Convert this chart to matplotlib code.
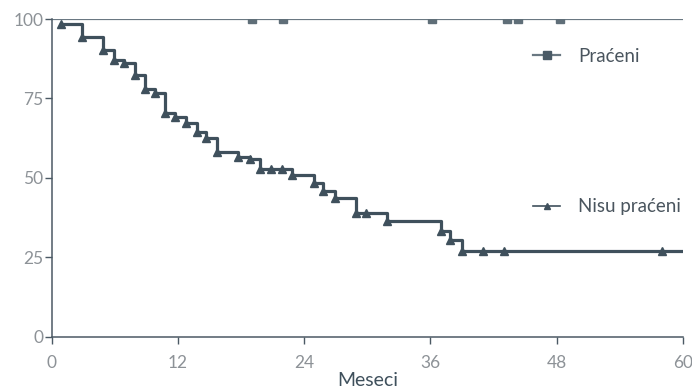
import matplotlib.pyplot as plt
from matplotlib.lines import Line2D

# Nisu praćeni: step curve (time in months, survival %)
nisu_t = [0.9, 2.9, 4.9, 5.9, 6.9, 7.9, 8.9, 9.8, 10.8, 11.7, 12.8, 13.8, 14.7,
          15.7, 17.7, 18.8, 19.8, 20.8, 21.9, 22.8, 24.9, 25.8, 26.9, 28.9,
          29.9, 31.9, 37.0, 37.9, 39.0, 41.0, 43.0, 58.0]
nisu_s = [98.5, 94.2, 90.2, 87.1, 86.0, 82.3, 78.0, 76.6, 70.5, 69.1, 67.2, 64.3,
          62.6, 58.2, 56.5, 56.0, 52.8, 52.8, 52.8, 50.9, 48.5, 45.9, 43.6, 39.0,
          39.0, 36.4, 33.3, 30.4, 27.0, 27.0, 27.0, 27.0]
# Praćeni: all stay at 100 %, censor marks
pracen_t = [19.0, 22.0, 36.1, 43.3, 44.3, 48.3]
pracen_s = [100] * len(pracen_t)

x_ticks = [0, 12, 24, 36, 48, 60]
y_ticks = [0, 25, 50, 75, 100]

DARK = "#3f505c"
GREY = "#6a7882"
TICK = "#8d9297"
FONT = ["Lato", "DejaVu Sans"]

fig = plt.figure(figsize=(6.92, 3.92), dpi=100)
ax = fig.add_axes([0.0747, 0.141, 0.9123, 0.8105])

# Praćeni line across full range at 100
ax.plot([0, 60], [100, 100], color=GREY, lw=1.6, zorder=2)
ax.plot(pracen_t, pracen_s, ls="none", marker="s", ms=5.5, color="#5f6e78", zorder=3)

# Nisu praćeni step curve
ax.step(nisu_t + [60], nisu_s + [nisu_s[-1]], where="post", color=DARK, lw=2.3, zorder=4)
ax.plot(nisu_t, nisu_s, ls="none", marker="^", ms=6, color=DARK, zorder=5)

ax.set_xlim(0, 60)
ax.set_ylim(0, 100)
ax.set_xticks(x_ticks)
ax.set_yticks(y_ticks)
for s in ["top", "right"]:
    ax.spines[s].set_visible(False)
for s in ["left", "bottom"]:
    ax.spines[s].set_color("#4b5964")
    ax.spines[s].set_linewidth(1.1)
ax.tick_params(axis="both", colors="#4b5964", length=5, width=1.0,
               labelcolor=TICK, labelsize=12.5)
ax.tick_params(axis="x", pad=8)
ax.tick_params(axis="y", pad=1)
for lab in ax.get_xticklabels() + ax.get_yticklabels():
    lab.set_family(FONT)

ax.set_xlabel("Meseci", fontsize=14, color=DARK, family=FONT, labelpad=1)

h1 = Line2D([], [], color=GREY, lw=1.6, marker="s", ms=5.5, mfc="#4a5a66", mec="#4a5a66")
h2 = Line2D([], [], color=DARK, lw=1.2, marker="^", ms=5, mfc=DARK, mec=DARK)
common = dict(loc="center left", frameon=False, handlelength=1.45, handletextpad=0.95,
              borderpad=0, borderaxespad=0, prop={"family": FONT, "size": 13.5},
              labelcolor="#4a555e")
fig.legend([h1], ["Praćeni"], bbox_to_anchor=(533 / 692, 1 - 56 / 392), **common)
fig.legend([h2], ["Nisu praćeni"], bbox_to_anchor=(533 / 692, 1 - 207 / 392), **common)

fig.savefig("out.png", dpi=100)
